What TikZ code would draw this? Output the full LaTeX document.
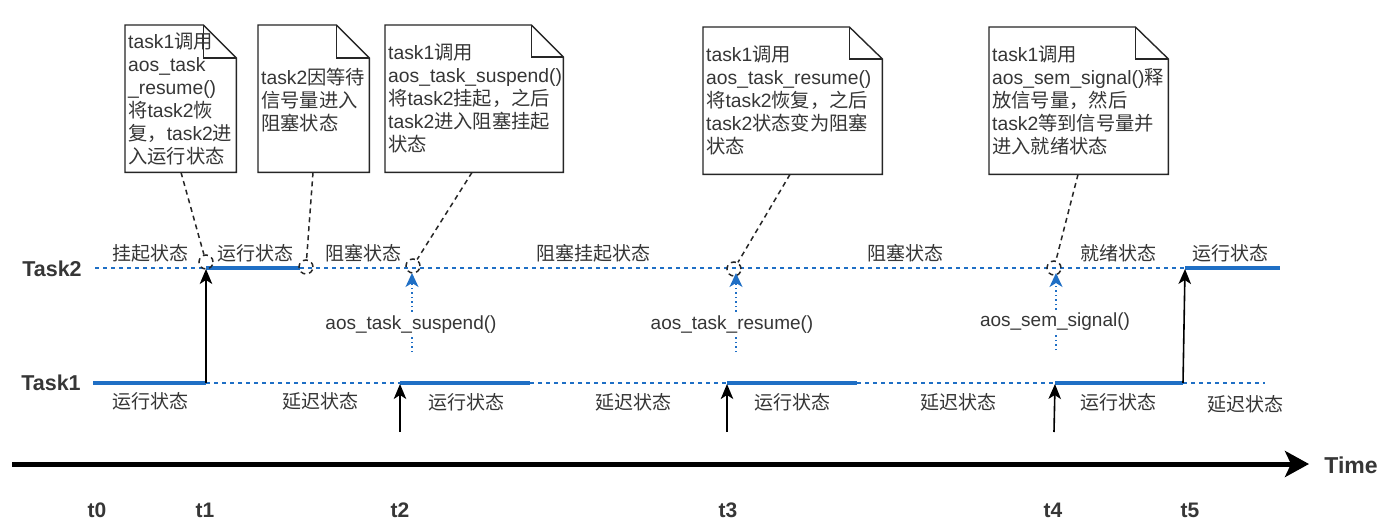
\documentclass[tikz,border=0pt]{standalone}
\usepackage{fontspec}
\setmainfont{Liberation Sans}
\newfontfamily\zhfont{Noto Sans CJK SC}
\newcommand\zh[1]{{\zhfont #1}}
\usetikzlibrary{arrows.meta}
\definecolor{tblue}{HTML}{1F6FC5}
\definecolor{tgray}{HTML}{363636}
\begin{document}
\begin{tikzpicture}[x=1pt,y=-1pt,
  notebox/.style={inner sep=0pt, minimum width=#1, minimum height=147pt, anchor=north west},
  notefold/.style={draw=black!85, line width=1.4pt, line join=miter, fill=white},
  notetext/.style={inner sep=0pt, anchor=north west, align=left, text=tgray, font=\fontsize{19.3}{23}\selectfont},
  stlabel/.style={inner sep=0pt, text=tgray, font=\zhfont\fontsize{19}{23}\selectfont},
  fnlabel/.style={inner sep=1pt, fill=white, text=tgray, font=\fontsize{19}{23}\selectfont},
  tasklabel/.style={inner sep=0pt, text=tgray, font=\bfseries\fontsize{21.5}{24}\selectfont},
  tlabel/.style={inner sep=0pt, text=tgray, font=\bfseries\fontsize{21}{24}\selectfont},
  idle/.style={draw=tblue, line width=1.5pt, dash pattern=on 4pt off 4pt},
  active/.style={draw=tblue, line width=4pt},
  sw/.style={draw=black, line width=1.6pt, -{Stealth[length=15pt,width=12.5pt,inset=4pt]}},
  call/.style={draw=tblue, line width=1.5pt, dash pattern=on 1.5pt off 3pt, -{Stealth[length=14pt,width=13pt,inset=4pt]}},
  callout/.style={draw=black!85, line width=1.5pt, dash pattern=on 5pt off 4pt},
  tip/.style={circle, draw=black!85, line width=1.5pt, dash pattern=on 5pt off 4pt, minimum size=14pt, inner sep=0pt}
]
\useasboundingbox[fill=white] (0,0) rectangle (1400,525);

% ---------- notes ----------
\node[notebox=111pt] (n1) at (125,25) {};
\draw[notefold] (n1.north west) -- ([xshift=-33pt]n1.north east) -- ([yshift=-33pt]n1.north east) -- (n1.south east) -- (n1.south west) -- cycle;
\draw[notefold, fill=none] ([xshift=-33pt]n1.north east) -- ([xshift=-33pt,yshift=-33pt]n1.north east) -- ([yshift=-33pt]n1.north east);
\node[notetext] (n1t) at (128,33) {task1\zh{调用}\\aos\_task\\\_resume()\\\zh{将}task2\zh{恢}\\\zh{复，}task2\zh{进}\\\zh{入运行状态}};

\node[notebox=111pt] (n2) at (258,25) {};
\draw[notefold] (n2.north west) -- ([xshift=-33pt]n2.north east) -- ([yshift=-33pt]n2.north east) -- (n2.south east) -- (n2.south west) -- cycle;
\draw[notefold, fill=none] ([xshift=-33pt]n2.north east) -- ([xshift=-33pt,yshift=-33pt]n2.north east) -- ([yshift=-33pt]n2.north east);
\node[notetext] (n2t) at (261,68) {task2\zh{因等待}\\\zh{信号量进入}\\\zh{阻塞状态}};

\node[notebox=178pt] (n3) at (385,25) {};
\draw[notefold] (n3.north west) -- ([xshift=-32pt]n3.north east) -- ([yshift=-32pt]n3.north east) -- (n3.south east) -- (n3.south west) -- cycle;
\draw[notefold, fill=none] ([xshift=-32pt]n3.north east) -- ([xshift=-32pt,yshift=-32pt]n3.north east) -- ([yshift=-32pt]n3.north east);
\node[notetext] (n3t) at (388,44) {task1\zh{调用}\\aos\_task\_suspend()\\\zh{将}task2\zh{挂起，之后}\\task2\zh{进入阻塞挂起}\\\zh{状态}};

\node[notebox=179pt] (n4) at (703,27) {};
\draw[notefold] (n4.north west) -- ([xshift=-33pt]n4.north east) -- ([yshift=-32pt]n4.north east) -- (n4.south east) -- (n4.south west) -- cycle;
\draw[notefold, fill=none] ([xshift=-33pt]n4.north east) -- ([xshift=-33pt,yshift=-32pt]n4.north east) -- ([yshift=-32pt]n4.north east);
\node[notetext] (n4t) at (706,46) {task1\zh{调用}\\aos\_task\_resume()\\\zh{将}task2\zh{恢复，之后}\\task2\zh{状态变为阻塞}\\\zh{状态}};

\node[notebox=179pt] (n5) at (989,27) {};
\draw[notefold] (n5.north west) -- ([xshift=-33pt]n5.north east) -- ([yshift=-32pt]n5.north east) -- (n5.south east) -- (n5.south west) -- cycle;
\draw[notefold, fill=none] ([xshift=-33pt]n5.north east) -- ([xshift=-33pt,yshift=-32pt]n5.north east) -- ([yshift=-32pt]n5.north east);
\node[notetext] (n5t) at (992,46) {task1\zh{调用}\\aos\_sem\_signal()\zh{释}\\\zh{放信号量，然后}\\task2\zh{等到信号量并}\\\zh{进入就绪状态}};

% ---------- task lines ----------
\node[tasklabel] (task2) at (52,269) {Task2};
\node[tasklabel] (task1) at (51,383) {Task1};

\coordinate (a0) at (95,268);  \coordinate (a1) at (206,268); \coordinate (a1e) at (300,268);
\coordinate (a5) at (1185,268); \coordinate (a6) at (1280,268);
\coordinate (b0) at (93,383);  \coordinate (b1) at (206,383); \coordinate (b2) at (400,383);
\coordinate (b2e) at (530,383); \coordinate (b3) at (727,383); \coordinate (b3e) at (857,383);
\coordinate (b4) at (1055,383); \coordinate (b5) at (1183,383); \coordinate (b6) at (1265,383);

\draw[idle] (a0) -- (a1);
\draw[idle] (a1e) -- (a5);
\draw[active] (a1) -- (a1e);
\draw[active] (a5) -- (a6);

\draw[idle] (b1) -- (b2);
\draw[idle] (b2e) -- (b3);
\draw[idle] (b3e) -- (b4);
\draw[idle] (b5) -- (b6);
\draw[active] (b0) -- (b1);
\draw[active] (b2) -- (b2e);
\draw[active] (b3) -- (b3e);
\draw[active] (b4) -- (b5);

% state labels
\node[stlabel] (s1) at (150,253) {挂起状态};
\node[stlabel] (s2) at (255,253) {运行状态};
\node[stlabel] (s3) at (363,253) {阻塞状态};
\node[stlabel] (s4) at (593,253) {阻塞挂起状态};
\node[stlabel] (s5) at (905,253) {阻塞状态};
\node[stlabel] (s6) at (1118,253) {就绪状态};
\node[stlabel] (s7) at (1230,253) {运行状态};

\node[stlabel] (r1) at (150,401) {运行状态};
\node[stlabel] (r2) at (320,401) {延迟状态};
\node[stlabel] (r3) at (466,402) {运行状态};
\node[stlabel] (r4) at (633,402) {延迟状态};
\node[stlabel] (r5) at (792,402) {运行状态};
\node[stlabel] (r6) at (958,402) {延迟状态};
\node[stlabel] (r7) at (1118,402) {运行状态};
\node[stlabel] (r8) at (1245,404) {延迟状态};

% switch arrows
\draw[sw] (b1) -- ([yshift=-1pt]a1);
\draw[sw] (b5) -- ([yshift=-1pt]a5);
\coordinate (u2) at (400,432); \coordinate (u3) at (727,432); \coordinate (u4) at (1054,432);
\draw[sw] (u2) -- ([yshift=-1pt]b2);
\draw[sw] (u3) -- ([yshift=-1pt]b3);
\draw[sw] (u4) -- ([yshift=-1pt]b4);

% API calls
\coordinate (k2) at (412,352); \coordinate (k2t) at (412,273);
\coordinate (k3) at (736,352); \coordinate (k3t) at (736,273);
\coordinate (k4) at (1056,350); \coordinate (k4t) at (1056,273);
\draw[call] (k2) -- (k2t);
\draw[call] (k3) -- (k3t);
\draw[call] (k4) -- (k4t);
\node[fnlabel] (f2) at (411,325) {aos\_task\_suspend()};
\node[fnlabel] (f3) at (732,325) {aos\_task\_resume()};
\node[fnlabel] (f4) at (1055,322) {aos\_sem\_signal()};

% callouts
\node[tip] (c1) at (206,262) {};
\node[tip] (c2) at (306,267) {};
\node[tip] (c3) at (413,266) {};
\node[tip] (c4) at (734,269) {};
\node[tip] (c5) at (1054,268) {};
\draw[callout] ([xshift=56pt]n1.south west) -- (c1);
\draw[callout] ([xshift=55pt]n2.south west) -- (c2);
\draw[callout] ([xshift=87pt]n3.south west) -- (c3);
\draw[callout] ([xshift=87pt]n4.south west) -- (c4);
\draw[callout] ([xshift=89pt]n5.south west) -- (c5);

% time axis
\coordinate (ax0) at (12,464);
\coordinate (ax1) at (1309,464);
\draw[line width=5pt, -{Stealth[length=24pt,width=26pt,inset=6pt]}] (ax0) -- (ax1);
\node[inner sep=0pt, text=tgray, font=\bfseries\fontsize{23}{26}\selectfont] (time) at (1351,465) {Time};

\node[tlabel] (t0) at (97,510) {t0};
\node[tlabel] (t1) at (205,510) {t1};
\node[tlabel] (t2) at (400,510) {t2};
\node[tlabel] (t3) at (728,510) {t3};
\node[tlabel] (t4) at (1053,510) {t4};
\node[tlabel] (t5) at (1190,510) {t5};
\end{tikzpicture}
\end{document}
